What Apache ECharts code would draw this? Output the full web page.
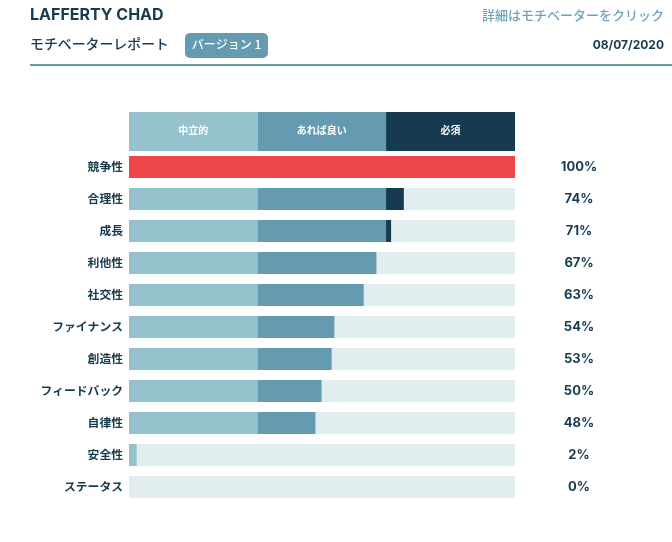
<!DOCTYPE html>
<html>
<head>
<meta charset="utf-8">
<style>
  html, body { margin: 0; padding: 0; background: #fff; }
  #main { width: 672px; height: 542px; }
</style>
<script src="https://cdn.jsdelivr.net/npm/echarts@6/dist/echarts.min.js"></script>
</head>
<body>
<div id="main"></div>
<script>
var categories = ['競争性', '合理性', '成長', '利他性', '社交性', 'ファイナンス', '創造性', 'フィードバック', '自律性', '安全性', 'ステータス'];
var percentLabels = ['100%', '74%', '71%', '67%', '63%', '54%', '53%', '50%', '48%', '2%', '0%'];
var alertValues = [100, 0, 0, 0, 0, 0, 0, 0, 0, 0, 0];
var neutralValues = [0, 33.3, 33.3, 33.3, 33.3, 33.3, 33.3, 33.3, 33.3, 2, 0];
var niceValues = [0, 33.3, 33.3, 30.8, 27.5, 19.9, 19.2, 16.6, 15, 0, 0];
var mustValues = [0, 4.6, 1.3, 0, 0, 0, 0, 0, 0, 0, 0];
var headerNames = ['中立的', 'あれば良い', '必須'];
var headerValues = [33.3, 33.3, 33.4];

var DARK = '#163a4f', MID = '#659bb0', LIGHT = '#95c2cd', TRACK = '#e2edef', RED = '#ef464c';
var FONT = '"Noto Sans CJK JP", sans-serif';
var LATIN = 'Inter, "Noto Sans CJK JP", sans-serif';
var headerColors = [LIGHT, MID, DARK];

function rowSeries(name, values, color, track) {
  return {
    name: name,
    type: 'bar',
    stack: 'rows',
    barWidth: 22,
    showBackground: !!track,
    backgroundStyle: { color: TRACK },
    itemStyle: { color: color },
    silent: true,
    data: values
  };
}

var series = [
  rowSeries('競争', alertValues, RED, true),
  rowSeries(headerNames[0], neutralValues, LIGHT),
  rowSeries(headerNames[1], niceValues, MID),
  rowSeries(headerNames[2], mustValues, DARK)
];

// ヘッダーの帯
headerNames.forEach(function (name, i) {
  series.push({
    name: name,
    type: 'bar',
    stack: 'head',
    xAxisIndex: 1,
    yAxisIndex: 2,
    barWidth: 39,
    silent: true,
    itemStyle: { color: headerColors[i] },
    label: {
      show: true,
      position: 'inside',
      offset: [0, -1],
      formatter: name,
      color: '#fff',
      fontFamily: FONT,
      fontSize: 10,
      fontWeight: 'bold'
    },
    data: [headerValues[i]]
  });
});

function headText(x, y, text, size, color, align, weight, family) {
  return {
    type: 'text',
    x: x,
    y: y,
    style: {
      text: text,
      fontFamily: family || FONT,
      fontSize: size,
      fontWeight: weight || 'bold',
      fill: color,
      align: align || 'left',
      verticalAlign: 'middle'
    }
  };
}

var chart = echarts.init(document.getElementById('main'), null, { renderer: 'canvas' });
chart.setOption({
  animation: false,
  backgroundColor: '#fff',
  grid: [
    { left: 129, top: 151, width: 386, height: 352 },
    { left: 129, top: 112, width: 386, height: 39 }
  ],
  xAxis: [
    { type: 'value', min: 0, max: 100, show: false, gridIndex: 0 },
    { type: 'value', min: 0, max: 100, show: false, gridIndex: 1 }
  ],
  yAxis: [
    {
      type: 'category',
      gridIndex: 0,
      inverse: true,
      data: categories,
      axisLine: { show: false },
      axisTick: { show: false },
      axisLabel: { margin: 6, color: DARK, fontFamily: FONT, fontSize: 11.8, fontWeight: 'bold' }
    },
    {
      type: 'category',
      gridIndex: 0,
      position: 'right',
      inverse: true,
      data: percentLabels,
      axisLine: { show: false },
      axisTick: { show: false },
      axisLabel: { margin: 64, align: 'center', color: DARK, fontFamily: LATIN, fontSize: 13, fontWeight: 'bold' }
    },
    { type: 'category', gridIndex: 1, data: ['header'], show: false }
  ],
  series: series,
  graphic: [
    headText(30, 15.5, 'LAFFERTY CHAD', 16, DARK, 'left', 'bold', LATIN),
    headText(30, 44, 'モチベーターレポート', 13.9, DARK, 'left', 500),
    {
      type: 'rect',
      shape: { x: 185, y: 33, width: 83, height: 25, r: 5 },
      style: { fill: MID }
    },
    headText(226.5, 44.5, 'バージョン 1', 12, '#fff', 'center', 500),
    headText(664, 15, '詳細はモチベーターをクリック', 13, '#6fa3b8', 'right', 500),
    headText(664, 45, '08/07/2020', 12, DARK, 'right', 'bold', LATIN),
    {
      type: 'rect',
      shape: { x: 30, y: 64, width: 642, height: 2 },
      style: { fill: MID }
    }
  ]
});
</script>
</body>
</html>
